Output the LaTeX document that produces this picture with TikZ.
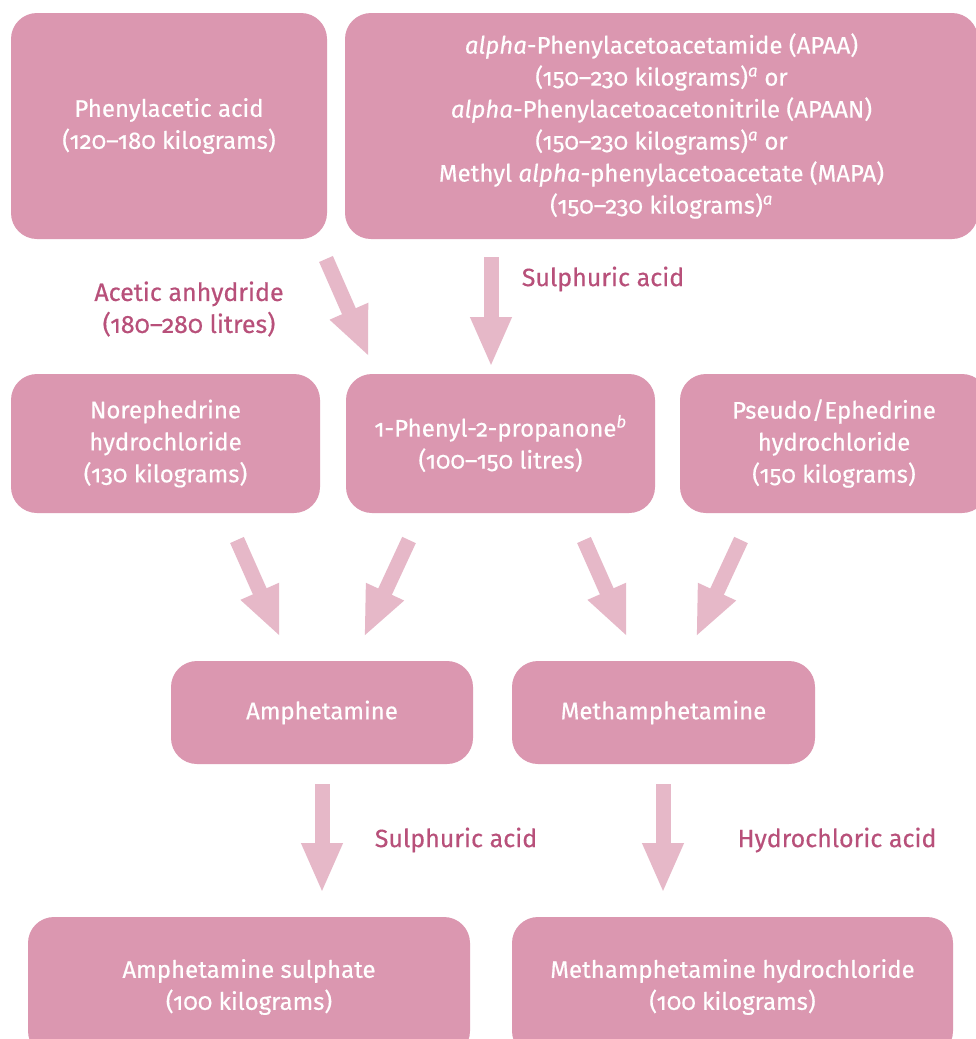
\documentclass[tikz,border=0pt]{standalone}
\usepackage{fontspec}
\setmainfont{Fira Sans}[Numbers=OldStyle,FakeBold=0.45]
\usetikzlibrary{arrows.meta}
\definecolor{boxpink}{HTML}{DB97B0}
\definecolor{arrowpink}{HTML}{E6B8C8}
\definecolor{labelpink}{HTML}{B8507A}
\tikzset{
  pbox/.style={fill=boxpink, rounded corners=26pt, text=white, align=center,
    inner sep=0pt, font=\fontsize{24}{32}\selectfont},
  fatarrow/.style={draw=arrowpink, line width=15pt,
    -{Triangle[width=38pt,length=50pt,fill=arrowpink]}},
  lbl/.style={text=labelpink, align=center, font=\fontsize{25}{32}\selectfont}
}
\newcommand{\supa}{\textsuperscript{\itshape a}}
\begin{document}
\begin{tikzpicture}[x=1pt,y=-1pt]
\clip (0,0) rectangle (976,1039);
\fill[white] (0,0) rectangle (976,1039);
% boxes
\node[pbox, minimum width=316pt, minimum height=226pt] (paa) at (169,126) {Phenylacetic acid\\(120–180 kilograms)};
\node[pbox, minimum width=633pt, minimum height=226pt] (apaa) at (661.5,126) {\itshape alpha\upshape-Phenylacetoacetamide (APAA)\\(150–230 kilograms)\supa\ or\\\itshape alpha\upshape-Phenylacetoacetonitrile (APAAN)\\(150–230 kilograms)\supa\ or\\Methyl \itshape alpha\upshape-phenylacetoacetate (MAPA)\\(150–230 kilograms)\supa};
\node[pbox, minimum width=309pt, minimum height=139pt] (nor) at (165.5,443.5) {Norephedrine\\hydrochloride\\(130 kilograms)};
\node[pbox, minimum width=309pt, minimum height=139pt] (p2p) at (500.5,443.5) {1-Phenyl-2-propanone\textsuperscript{\itshape b}\\(100–150 litres)};
\node[pbox, minimum width=308pt, minimum height=139pt] (pse) at (834,443.5) {Pseudo/Ephedrine\\hydrochloride\\(150 kilograms)};
\node[pbox, minimum width=302pt, minimum height=103pt] (amp) at (322,712.5) {Amphetamine};
\node[pbox, minimum width=303pt, minimum height=103pt] (meth) at (663.5,712.5) {Methamphetamine};
\node[pbox, minimum width=442pt, minimum height=140pt] (amps) at (249,987) {Amphetamine sulphate\\(100 kilograms)};
\node[pbox, minimum width=441pt, minimum height=140pt] (meths) at (732.5,987) {Methamphetamine hydrochloride\\(100 kilograms)};
% arrow end points
\coordinate (a1s) at (326,259); \coordinate (a1e) at (369,357);
\coordinate (a2s) at (491,257); \coordinate (a2e) at (491,367);
\coordinate (a3s) at (237,540); \coordinate (a3e) at (280,637);
\coordinate (a4s) at (409,540); \coordinate (a4e) at (364,637);
\coordinate (a5s) at (584,540); \coordinate (a5e) at (627,637);
\coordinate (a6s) at (741,540); \coordinate (a6e) at (696,637);
\coordinate (a7s) at (322,784); \coordinate (a7e) at (322,893);
\coordinate (a8s) at (663,784); \coordinate (a8e) at (663,893);
\foreach \i in {1,...,8} {\draw[fatarrow] (a\i s) -- (a\i e);}
% labels
\node[lbl] (l1) at (189,309) {Acetic anhydride\\(180–280 litres)};
\node[lbl] (l2) at (603,279) {Sulphuric acid};
\node[lbl] (l3) at (456,840) {Sulphuric acid};
\node[lbl] (l4) at (837,840) {Hydrochloric acid};
\end{tikzpicture}
\end{document}
